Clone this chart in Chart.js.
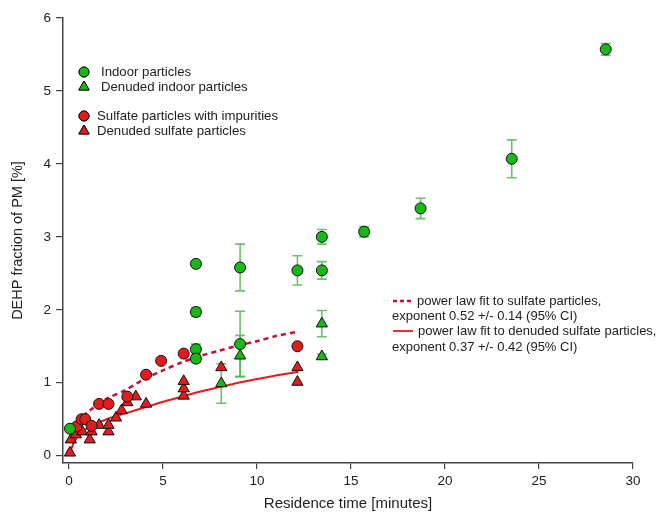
<!DOCTYPE html>
<html>
<head>
<meta charset="utf-8">
<script src="https://cdn.jsdelivr.net/npm/chart.js@4.4.0/dist/chart.umd.min.js"></script>
<style>
  body { margin: 0; background: #fff; }
  #wrap { width: 669px; height: 514px; }
</style>
</head>
<body>
<div id="wrap"><canvas id="chart" width="669" height="514"></canvas></div>
<script>
// Residence time [minutes] vs DEHP fraction of PM [%]

// Indoor particles (green circles) + their error bars
const indoorT   = [0.05, 6.75, 6.75, 6.75, 6.75, 9.1, 9.1, 12.15, 13.45, 13.45, 15.7, 18.7, 23.55, 28.55];
const indoorY   = [0.37, 2.63, 1.97, 1.46, 1.33, 2.58, 1.53, 2.54, 2.54, 3.0, 3.07, 3.39, 4.07, 5.57];
const indoorErr = [0, 0.04, 0.06, 0.07, 0.05, 0.32, 0.45, 0.2, 0.12, 0.1, 0.07, 0.14, 0.26, 0.08];

// Denuded indoor particles (green triangles)
const denIndoorT   = [8.1, 9.1, 13.45, 13.45];
const denIndoorY   = [0.99, 1.37, 1.81, 1.36];
const denIndoorErr = [0.27, 0.28, 0.18, 0.03];

// Sulfate particles with impurities (red circles)
const sulfateT = [0.4, 0.67, 0.86, 1.2, 1.6, 2.1, 3.1, 4.1, 4.9, 6.1, 12.15];
const sulfateY = [0.4, 0.5, 0.5, 0.41, 0.71, 0.71, 0.81, 1.11, 1.3, 1.4, 1.5];

// Denuded sulfate particles (red triangles)
const denSulfateT = [0.05, 0.1, 0.37, 0.7, 1.1, 1.2, 1.6, 2.1, 2.1, 2.5, 2.8, 3.1, 3.55, 4.1, 6.1, 6.1, 6.1, 8.1, 12.15, 12.15];
const denSulfateY = [0.04, 0.22, 0.29, 0.33, 0.22, 0.33, 0.42, 0.33, 0.42, 0.52, 0.62, 0.73, 0.81, 0.71, 0.82, 0.92, 1.02, 1.21, 1.21, 1.01];

// power law fit curves
const fitSulfateT = [0.2, 0.5, 1, 2, 3, 4, 5, 6, 7, 8, 9, 10, 11, 12.2];
const fitSulfateY = [0.34, 0.47, 0.6, 0.78, 0.9, 1.05, 1.17, 1.28, 1.37, 1.44, 1.51, 1.57, 1.64, 1.70];
const fitDenT = [0.1, 0.3, 0.6, 1, 2, 3, 4, 5, 6, 7, 8, 9, 10, 11, 12.2];
const fitDenY = [0.08, 0.2, 0.3, 0.38, 0.5, 0.58, 0.66, 0.74, 0.81, 0.88, 0.94, 1.0, 1.05, 1.1, 1.15];

const xTicks = [0, 5, 10, 15, 20, 25, 30];
const yTicks = [0, 1, 2, 3, 4, 5, 6];

const GREEN = '#19b819';
const RED = '#e41a1c';
const BAR = 'rgba(80,185,80,0.85)';
const FONT = '"Liberation Sans", Arial, sans-serif';

function pts(xs, ys) {
    return xs.map((x, i) => ({ x: x, y: ys[i] }));
}

// error bars drawn with the chart's own scales
const errorBars = {
    id: 'errorBars',
    beforeDatasetsDraw(chart) {
        const ctx = chart.ctx;
        const xs = chart.scales.x, ys = chart.scales.y;
        ctx.save();
        ctx.strokeStyle = BAR;
        ctx.lineWidth = 1.6;
        chart.data.datasets.forEach(ds => {
            if (!ds.errors) return;
            ds.data.forEach((p, i) => {
                const e = ds.errors[i];
                if (!e) return;
                const px = xs.getPixelForValue(p.x);
                const top = ys.getPixelForValue(p.y + e);
                const bot = ys.getPixelForValue(p.y - e);
                ctx.beginPath();
                ctx.moveTo(px, top); ctx.lineTo(px, bot);
                ctx.moveTo(px - 5, top); ctx.lineTo(px + 5, top);
                ctx.moveTo(px - 5, bot); ctx.lineTo(px + 5, bot);
                ctx.stroke();
            });
        });
        ctx.restore();
    }
};

// in-plot legend and fit annotation
const notes = {
    id: 'notes',
    afterDraw(chart) {
        const ctx = chart.ctx;
        ctx.save();
        ctx.font = '13.2px ' + FONT;
        ctx.fillStyle = '#222';
        ctx.textBaseline = 'middle';
        ctx.lineWidth = 1;
        ctx.strokeStyle = '#111';

        const sym = (style, color, x, y) => {
            ctx.fillStyle = color;
            Chart.helpers.drawPoint(ctx, { pointStyle: style, radius: style === 'triangle' ? 6 : 5, borderWidth: 1 }, x, y);
            ctx.fill();
            ctx.stroke();
        };
        const text = (s, x, y) => { ctx.fillStyle = '#222'; ctx.fillText(s, x, y); };

        sym('circle', GREEN, 84, 72);   text('Indoor particles', 101, 72);
        sym('triangle', GREEN, 84, 87); text('Denuded indoor particles', 101, 87);
        sym('circle', RED, 84, 116);    text('Sulfate particles with impurities', 97, 116);
        sym('triangle', RED, 84, 131);  text('Denuded sulfate particles', 97, 131);

        // annotation for the fits
        ctx.font = '13px ' + FONT;
        ctx.strokeStyle = '#c8102e';
        ctx.lineWidth = 2.5;
        ctx.setLineDash([4, 3]);
        ctx.beginPath(); ctx.moveTo(393, 301); ctx.lineTo(413, 301); ctx.stroke();
        ctx.setLineDash([]);
        ctx.strokeStyle = RED;
        ctx.lineWidth = 1.8;
        ctx.beginPath(); ctx.moveTo(393, 331); ctx.lineTo(413, 331); ctx.stroke();
        text('power law fit to sulfate particles,', 417, 301);
        text('exponent 0.52 +/- 0.14 (95% CI)', 392, 316);
        text('power law fit to denuded sulfate particles,', 418, 331);
        text('exponent 0.37 +/- 0.42 (95% CI)', 392, 347);
        ctx.restore();
    }
};

const ctx = document.getElementById('chart').getContext('2d');

const chart = new Chart(ctx, {
    type: 'scatter',
    data: {
        datasets: [
            {
                label: 'Indoor particles',
                data: pts(indoorT, indoorY),
                errors: indoorErr,
                pointStyle: 'circle',
                pointRadius: 5.5,
                backgroundColor: GREEN,
                borderColor: '#111',
                borderWidth: 1
            },
            {
                label: 'Denuded indoor particles',
                data: pts(denIndoorT, denIndoorY),
                errors: denIndoorErr,
                pointStyle: 'triangle',
                pointRadius: 6.5,
                backgroundColor: GREEN,
                borderColor: '#111',
                borderWidth: 1
            },
            {
                label: 'Sulfate particles with impurities',
                data: pts(sulfateT, sulfateY),
                pointStyle: 'circle',
                pointRadius: 5.5,
                backgroundColor: RED,
                borderColor: '#111',
                borderWidth: 1
            },
            {
                label: 'Denuded sulfate particles',
                data: pts(denSulfateT, denSulfateY),
                pointStyle: 'triangle',
                pointRadius: 6.5,
                backgroundColor: RED,
                borderColor: '#111',
                borderWidth: 1
            },
            {
                label: 'power law fit to sulfate particles',
                data: pts(fitSulfateT, fitSulfateY),
                showLine: true,
                pointRadius: 0,
                borderColor: '#c8102e',
                borderWidth: 2.5,
                borderDash: [5, 4],
                tension: 0.3,
                fill: false
            },
            {
                label: 'power law fit to denuded sulfate particles',
                data: pts(fitDenT, fitDenY),
                showLine: true,
                pointRadius: 0,
                borderColor: RED,
                borderWidth: 2,
                tension: 0.3,
                fill: false
            }
        ]
    },
    options: {
        responsive: false,
        animation: false,
        layout: { padding: { top: 18, right: 36, left: 0, bottom: 0 } },
        plugins: {
            legend: { display: false },
            tooltip: { enabled: false }
        },
        scales: {
            x: {
                type: 'linear',
                min: -0.32,
                max: 30,
                afterFit: s => { s.height = 51; },
                afterBuildTicks: s => { s.ticks = xTicks.map(v => ({ value: v })); },
                border: { color: '#444', width: 1.5 },
                grid: { drawOnChartArea: false, color: '#444', lineWidth: 1.2, tickLength: 6 },
                ticks: { color: '#222', font: { family: FONT, size: 13.5 }, padding: 4, maxRotation: 0 },
                title: { display: true, text: 'Residence time [minutes]', color: '#222', font: { family: FONT, size: 15 }, padding: { bottom: 1 } }
            },
            y: {
                type: 'linear',
                min: -0.1,
                max: 6,
                afterFit: s => { s.width = 63; },
                afterBuildTicks: s => { s.ticks = yTicks.map(v => ({ value: v })); },
                border: { color: '#444', width: 1.5 },
                grid: { drawOnChartArea: false, color: '#444', lineWidth: 1.2, tickLength: 7 },
                ticks: { color: '#222', font: { family: FONT, size: 13.5 }, padding: 5 },
                title: { display: true, text: 'DEHP fraction of PM [%]', color: '#222', font: { family: FONT, size: 14.5 }, padding: { top: 9 } }
            }
        }
    },
    plugins: [errorBars, notes]
});
</script>
</body>
</html>
